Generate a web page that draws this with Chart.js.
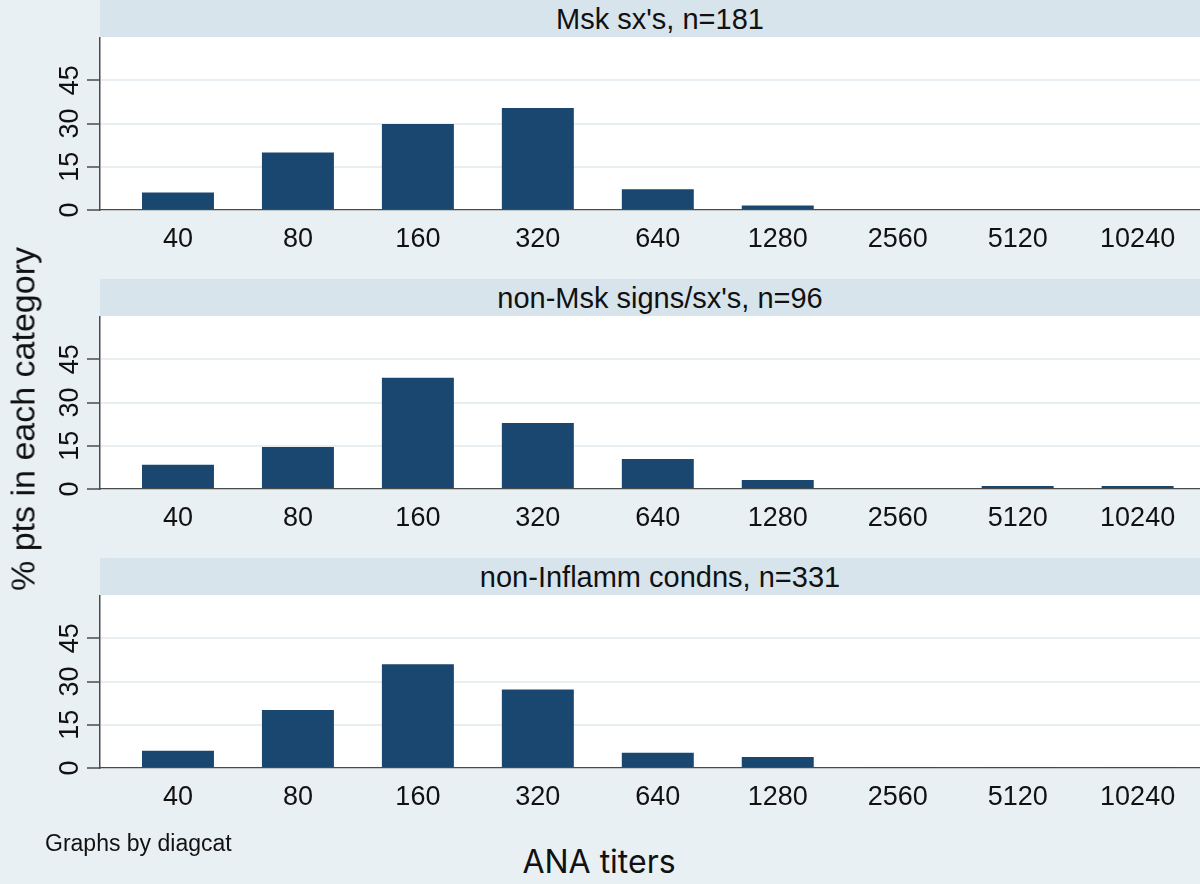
<!DOCTYPE html>
<html>
<head>
<meta charset="utf-8">
<script src="https://cdn.jsdelivr.net/npm/chart.js@4.4.1/dist/chart.umd.min.js"></script>
<style>
  html, body { margin:0; padding:0; }
  body { width:1200px; height:884px; overflow:hidden; position:relative; background:#e9f0f3; font-family:"Liberation Sans", Arial, sans-serif; color:#111; }
  .strip { position:absolute; left:100px; width:1120px; height:37px; background:#d8e4eb; text-align:center; line-height:38px; font-size:29px; color:#111; }
  .box { position:absolute; left:0; width:1200px; height:240px; }
  #ytitle { position:absolute; left:23px; top:419px; transform:translate(-50%,-50%) rotate(-90deg); white-space:nowrap; font-size:34px; color:#111; }
  #note { position:absolute; left:45px; top:830px; font-size:23px; color:#111; white-space:nowrap; }
  #xtitle { position:absolute; left:599px; top:842px; transform:translateX(-50%); font-family:Inter, "Noto Sans", sans-serif; font-size:32px; color:#111; white-space:nowrap; }
</style>
</head>
<body>
<script>
// ---- data ----
const titerLabels = ["40", "80", "160", "320", "640", "1280", "2560", "5120", "10240"];
const panelTitles = ["Msk sx's, n=181", "non-Msk signs/sx's, n=96", "non-Inflamm condns, n=331"];
const mskValues = [6.1, 19.9, 29.8, 35.4, 7.2, 1.6, 0, 0, 0];
const nonMskValues = [8.4, 14.6, 38.6, 22.9, 10.4, 3.1, 0, 1.0, 1.0];
const nonInflammValues = [6.0, 20.1, 36.0, 27.2, 5.3, 3.8, 0.3, 0.3, 0.3];
const yTickValues = [0, 15, 30, 45];
const yMax = 60;
const yTitle = "% pts in each category";
const xTitle = "ANA titers";
const noteText = "Graphs by diagcat";

const panelSeries = [mskValues, nonMskValues, nonInflammValues];
const PANEL_STEP = 279;

const chartAreaBg = {
  id: 'chartAreaBg',
  beforeDraw(chart) {
    const {ctx, chartArea} = chart;
    ctx.save();
    ctx.fillStyle = '#ffffff';
    ctx.fillRect(chartArea.left, chartArea.top, chartArea.right - chartArea.left, chartArea.bottom - chartArea.top);
    ctx.restore();
  }
};
const yLabels = {
  id: 'yLabels',
  afterDraw(chart) {
    const {ctx} = chart;
    const ys = chart.scales.y;
    ctx.save();
    ctx.fillStyle = '#111';
    ctx.font = '27px "Liberation Sans", Arial, sans-serif';
    ctx.textAlign = 'center';
    ctx.textBaseline = 'middle';
    yTickValues.forEach(v => {
      const py = ys.getPixelForValue(v);
      ctx.save();
      ctx.translate(71, py);
      ctx.rotate(-Math.PI / 2);
      ctx.fillText(String(v), 0, 0);
      ctx.restore();
    });
    ctx.restore();
  }
};

panelSeries.forEach((vals, k) => {
  const top = k * PANEL_STEP;
  const strip = document.createElement('div');
  strip.className = 'strip';
  strip.style.top = top + 'px';
  strip.textContent = panelTitles[k];
  document.body.appendChild(strip);

  const box = document.createElement('div');
  box.className = 'box';
  box.style.top = (top + 37) + 'px';
  const cv = document.createElement('canvas');
  box.appendChild(cv);
  document.body.appendChild(box);

  new Chart(cv, {
    type: 'bar',
    data: {
      datasets: [{
        data: vals.map((v, i) => ({x: i, y: v})),
        backgroundColor: '#1a476f',
        borderWidth: 0,
        barPercentage: 0.6,
        categoryPercentage: 1.0
      }]
    },
    options: {
      responsive: true,
      maintainAspectRatio: false,
      animation: false,
      layout: { padding: 0 },
      plugins: { legend: { display: false }, tooltip: { enabled: false }, title: { display: false } },
      scales: {
        x: {
          type: 'linear',
          offset: false,
          min: -0.65,
          max: 8.52,
          afterBuildTicks(scale) { scale.ticks = titerLabels.map((_, i) => ({value: i})); },
          afterFit(scale) { scale.height = 67; },
          grid: { display: false, drawTicks: false, offset: false },
          border: { display: true, color: '#4a4a4a', width: 1.3 },
          ticks: {
            autoSkip: false, maxRotation: 0, minRotation: 0, padding: 13,
            color: '#111',
            font: { family: '"Liberation Sans", Arial, sans-serif', size: 27 },
            callback: (value) => titerLabels[Math.round(value)] ?? ''
          }
        },
        y: {
          min: 0,
          max: yMax,
          afterBuildTicks(scale) { scale.ticks = yTickValues.map(v => ({value: v})); },
          afterFit(scale) { scale.width = 100; },
          grid: {
            drawTicks: true,
            tickLength: 13,
            lineWidth: 2,
            color: (c) => (c.tick && c.tick.value === 0) ? 'rgba(0,0,0,0)' : '#e8eff3',
            tickColor: '#4a4a4a',
            tickWidth: 1.5
          },
          border: { display: true, color: '#4a4a4a', width: 1.5 },
          ticks: { display: false }
        }
      }
    },
    plugins: [chartAreaBg, yLabels]
  });
});

const yt = document.createElement('div'); yt.id = 'ytitle'; yt.textContent = yTitle; document.body.appendChild(yt);
const nt = document.createElement('div'); nt.id = 'note'; nt.textContent = noteText; document.body.appendChild(nt);
const xt = document.createElement('div'); xt.id = 'xtitle'; xt.textContent = xTitle; document.body.appendChild(xt);
</script>
</body>
</html>
